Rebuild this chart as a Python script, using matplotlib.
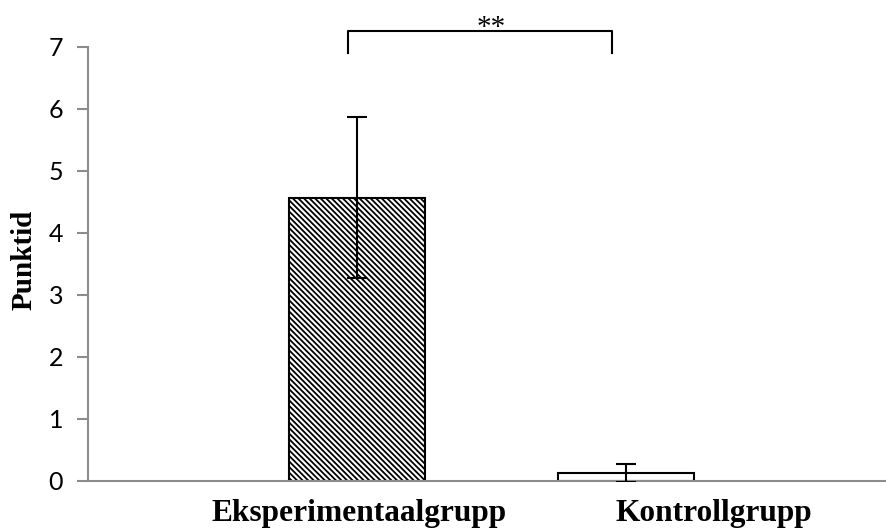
import numpy as np
import matplotlib
matplotlib.use("Agg")
import matplotlib.pyplot as plt

# data
groups = ["Eksperimentaalgrupp", "Kontrollgrupp"]
means = [4.57, 0.13]
errors = [1.30, 0.14]
ylabel = "Punktid"
signif = "**"

plt.rcParams['hatch.linewidth'] = 1.3

fig = plt.figure(figsize=(8.86, 5.32), dpi=100)
ax = fig.add_axes([0.0993, 0.0959, 0.9007, 0.8158])

pos = np.arange(1, len(groups) + 1)
ax.bar(pos[0], means[0], width=0.506, color="white", edgecolor="black",
       hatch="\\\\\\\\\\\\", linewidth=1.5, zorder=2)
ax.bar(pos[1], means[1], width=0.506, color="white", edgecolor="black",
       linewidth=1.5, zorder=2)
ax.errorbar(pos, means, yerr=errors, fmt="none", ecolor="black",
            elinewidth=1.5, capsize=7, capthick=1.5, zorder=3)

ax.set_xlim(0, 2.967)
ax.set_ylim(0, 7)
ax.set_yticks(range(0, 8))
ax.set_xticks([])
for side in ["top", "right"]:
    ax.spines[side].set_visible(False)
for side in ["left", "bottom"]:
    ax.spines[side].set_color("#8c8c8c")
    ax.spines[side].set_linewidth(1.5)
ax.tick_params(axis="y", length=8, width=1.5, color="#8c8c8c",
               labelsize=18, pad=10)
for lab in ax.get_yticklabels():
    lab.set_fontfamily("Lato")

# group labels (offset as in the original)
label_x = [1.008, 2.327]
for x, g in zip(label_x, groups):
    ax.text(x, -0.52, g, ha="center", va="center", fontsize=22.6,
            fontweight="bold", family="Liberation Serif")

fig.text(24 / 886, 1 - 260 / 532, ylabel, rotation=90, ha="center", va="center",
         fontsize=21, fontweight="bold", family="Liberation Serif")

# significance bracket
y_top, y_low = 7.26, 6.9
ax.plot([pos[0] - 0.034, pos[0] - 0.034, pos[1] - 0.053, pos[1] - 0.053],
        [y_low, y_top, y_top, y_low], color="black", lw=1.5, clip_on=False)
ax.text((pos[0] + pos[1]) / 2, 7.2, signif, ha="center", va="baseline",
        fontsize=21, family="Liberation Serif")

fig.savefig("out.png", dpi=100)
